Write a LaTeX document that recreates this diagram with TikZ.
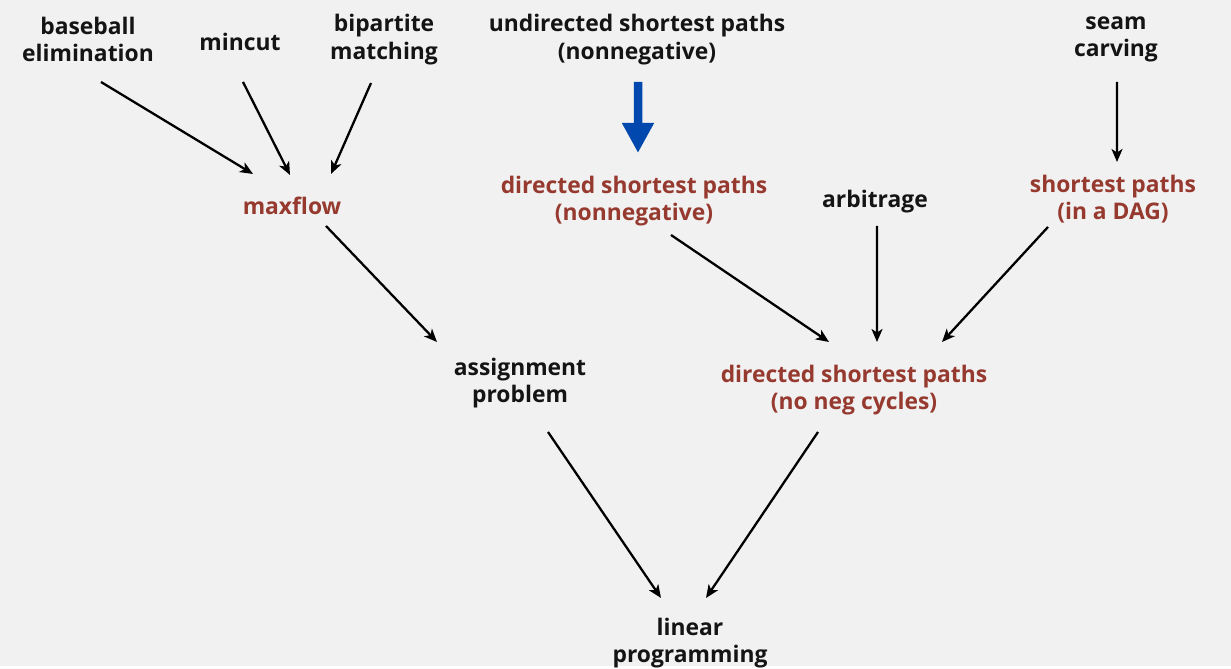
\documentclass[tikz,border=0pt]{standalone}
\usepackage{fontspec}
\setmainfont{Open Sans}
\usetikzlibrary{arrows.meta,calc}
\definecolor{bg}{HTML}{F1F1F1}
\definecolor{reduct}{HTML}{963A2F}
\definecolor{deepblue}{HTML}{0048AE}
\begin{document}
\begin{tikzpicture}[
    lbl/.style={align=center,inner sep=0pt,font=\fontsize{13}{15.6}\selectfont\bfseries,text=black!92},
    hot/.style={lbl,text=reduct},
    arr/.style={-{Stealth[length=0.26cm,width=0.22cm,inset=0.07cm]},line width=1.3pt},
    big/.style={-{Triangle[length=0.6cm,width=0.6cm]},line width=0.17cm,deepblue}]
            \fill[bg] (0,0) rectangle (24.62,13.32);

            \node[lbl] (base) at (1.76,12.53) {baseball\\elimination};
            \node[lbl] (mincut) at (4.80,12.48) {mincut};
            \node[lbl] (bip) at (7.68,12.53) {bipartite\\matching};
            \node[lbl] (usp) at (12.74,12.53) {undirected shortest paths\\(nonnegative)};
            \node[lbl] (seam) at (22.32,12.53) {seam\\carving};

            \node[hot] (maxflow) at (5.84,9.20) {maxflow};
            \node[hot] (dspn) at (12.68,9.30) {directed shortest paths\\(nonnegative)};
            \node[lbl] (arb) at (17.50,9.28) {arbitrage};
            \node[hot] (dag) at (22.26,9.34) {shortest paths\\(in a DAG)};

            \node[lbl] (assign) at (10.40,5.66) {assignment\\problem};
            \node[hot] (dspc) at (17.08,5.52) {directed shortest paths\\(no neg cycles)};

            \node[lbl] (lp) at (13.80,0.46) {linear\\programming};

            \draw[arr] ($(base)+(0.26,-0.85)$) -- ($(maxflow)+(-0.78,0.64)$);
            \draw[arr] ($(mincut)+(0.06,-0.80)$) -- ($(maxflow)+(-0.04,0.62)$);
            \draw[arr] ($(bip)+(-0.26,-0.87)$) -- ($(maxflow)+(0.78,0.64)$);
            \draw[big] ($(usp)+(0.02,-0.85)$) -- ($(dspn)+(0.08,0.96)$);
            \draw[arr] ($(seam)+(0.02,-0.85)$) -- ($(dag)+(0.08,0.74)$);

            \draw[arr] ($(maxflow)+(0.68,-0.40)$) -- ($(assign)+(-1.66,0.82)$);
            \draw[arr] ($(dspn)+(0.74,-0.68)$) -- ($(dspc)+(-0.50,0.96)$);
            \draw[arr] ($(arb)+(0.04,-0.48)$) -- ($(dspc)+(0.46,0.96)$);
            \draw[arr] ($(dag)+(-1.30,-0.56)$) -- ($(dspc)+(1.76,0.96)$);

            \draw[arr] ($(assign)+(0.56,-0.98)$) -- ($(lp)+(-0.58,0.90)$);
            \draw[arr] ($(dspc)+(-0.72,-0.84)$) -- ($(lp)+(0.32,0.90)$);
\end{tikzpicture}
\end{document}
